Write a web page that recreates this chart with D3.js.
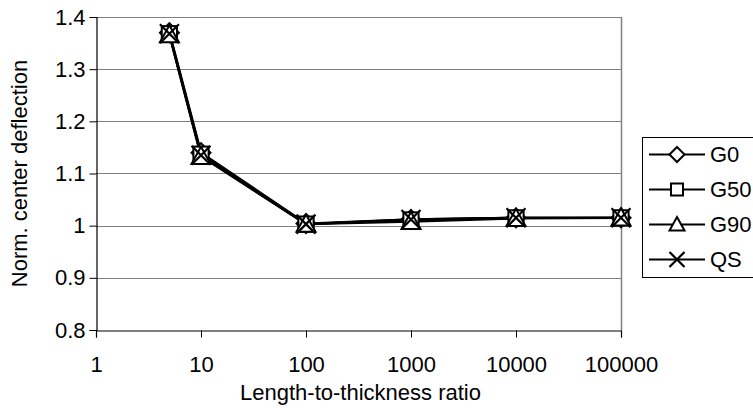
<!DOCTYPE html>
<html>
<head>
<meta charset="utf-8">
<script src="https://cdnjs.cloudflare.com/ajax/libs/d3/7.9.0/d3.min.js"></script>
<style>
  html, body { margin: 0; padding: 0; background: #fff; }
  svg { display: block; font-family: "Liberation Sans", Arial, sans-serif; }
</style>
</head>
<body>
<div id="grafico"></div>
<script>
// razão comprimento/espessura (eixo x, log)
const razoes = [5, 10, 100, 1000, 10000, 100000];
const ticksX = [1, 10, 100, 1000, 10000, 100000];
const ticksY = [0.8, 0.9, 1, 1.1, 1.2, 1.3, 1.4];

// deflexão central normalizada
const serieG0  = [1.370, 1.140, 1.004, 1.012, 1.015, 1.015];
const serieG50 = [1.368, 1.137, 1.003, 1.011, 1.015, 1.015];
const serieG90 = [1.366, 1.133, 1.003, 1.008, 1.014, 1.015];
const serieQS  = [1.368, 1.135, 1.003, 1.012, 1.015, 1.015];

const nomesSeries = ["G0", "G50", "G90", "QS"];
const marcadores  = ["diamante", "quadrado", "triangulo", "xis"];

const series = [serieG0, serieG50, serieG90, serieQS].map((vals, i) => ({
  nome: nomesSeries[i],
  marcador: marcadores[i],
  pontos: razoes.map((r, j) => ({ x: r, y: vals[j] }))
}));

const W = 753, H = 408;
const area = { esq: 96, dir: 621, topo: 17, base: 330 };
const FONTE = 22;

const svg = d3.select("#grafico").append("svg")
  .attr("width", W).attr("height", H);

const x = d3.scaleLog().domain([1, 100000]).range([area.esq, area.dir]);
const y = d3.scaleLinear().domain([0.8, 1.4]).range([area.base, area.topo]);

// desenha um marcador centrado em (0,0)
function desenhaMarcador(g, tipo, s) {
  if (tipo === "diamante") {
    g.append("path").attr("d", `M0,${-s}L${s},0L0,${s}L${-s},0Z`)
      .attr("fill", "#fff").attr("stroke", "#000").attr("stroke-width", 2);
  } else if (tipo === "quadrado") {
    const h = s * 0.8;
    g.append("rect").attr("x", -h).attr("y", -h).attr("width", 2 * h).attr("height", 2 * h)
      .attr("fill", "#fff").attr("stroke", "#000").attr("stroke-width", 2);
  } else if (tipo === "triangulo") {
    g.append("path").attr("d", `M0,${-s}L${s},${s * 0.8}L${-s},${s * 0.8}Z`)
      .attr("fill", "#fff").attr("stroke", "#000").attr("stroke-width", 2);
  } else {
    g.append("path").attr("d", `M${-s},${-s}L${s},${s}M${-s},${s}L${s},${-s}`)
      .attr("fill", "none").attr("stroke", "#000").attr("stroke-width", 2.2);
  }
}

// grade horizontal
svg.append("g")
  .selectAll("line")
  .data(ticksY.filter(v => v > 0.8))
  .join("line")
  .attr("x1", area.esq).attr("x2", area.dir)
  .attr("y1", d => Math.round(y(d)) + 0.5).attr("y2", d => Math.round(y(d)) + 0.5)
  .attr("stroke", "#808080").attr("stroke-width", 1);

// borda direita cinza
svg.append("line")
  .attr("x1", area.dir + 0.5).attr("x2", area.dir + 0.5)
  .attr("y1", area.topo).attr("y2", area.base)
  .attr("stroke", "#808080").attr("stroke-width", 1.5);

// eixo y
const eixoY = svg.append("g")
  .attr("transform", `translate(${area.esq + 0.5},0)`)
  .call(d3.axisLeft(y).tickValues(ticksY).tickSize(7).tickPadding(4)
    .tickFormat(d => d3.format("")(+d.toFixed(1))));

// eixo x
const eixoX = svg.append("g")
  .attr("transform", `translate(0,${area.base + 0.5})`)
  .call(d3.axisBottom(x).tickValues(ticksX).tickSize(7).tickPadding(19)
    .tickFormat(d3.format("d")));

[eixoY, eixoX].forEach(ax => {
  ax.select(".domain").attr("stroke", "#000").attr("stroke-width", 1.2);
  ax.selectAll(".tick line").attr("stroke", "#000");
  ax.selectAll(".tick text").attr("font-size", FONTE).attr("fill", "#000")
    .attr("font-family", "Liberation Sans, Arial, sans-serif");
});

// títulos dos eixos
svg.append("text")
  .attr("x", (area.esq + area.dir) / 2 + 2).attr("y", 400)
  .attr("text-anchor", "middle").attr("font-size", FONTE)
  .text("Length-to-thickness ratio");

svg.append("text")
  .attr("transform", `translate(27,${(area.topo + area.base) / 2}) rotate(-90)`)
  .attr("text-anchor", "middle").attr("font-size", FONTE)
  .text("Norm. center deflection");

// linhas
const linha = d3.line().x(d => x(d.x)).y(d => y(d.y));
svg.append("g")
  .selectAll("path")
  .data(series)
  .join("path")
  .attr("d", d => linha(d.pontos))
  .attr("fill", "none").attr("stroke", "#000").attr("stroke-width", 2.4);

// marcadores
series.forEach(s => {
  s.pontos.forEach(p => {
    const g = svg.append("g").attr("transform", `translate(${x(p.x)},${y(p.y)})`);
    desenhaMarcador(g, s.marcador, 9.5);
  });
});

// legenda
const leg = svg.append("g").attr("transform", "translate(642,137)");
leg.append("rect")
  .attr("x", 0.5).attr("y", 0.5).attr("width", 140).attr("height", 140)
  .attr("fill", "#fff").attr("stroke", "#000").attr("stroke-width", 1);

series.forEach((s, i) => {
  const cy = 17.5 + i * 35;
  const item = leg.append("g").attr("transform", `translate(0,${cy})`);
  item.append("line").attr("x1", 7).attr("x2", 63).attr("y1", 0).attr("y2", 0)
    .attr("stroke", "#000").attr("stroke-width", 2.2);
  const m = item.append("g").attr("transform", "translate(35,0)");
  desenhaMarcador(m, s.marcador, 7.5);
  item.append("text").attr("x", 68).attr("y", 0).attr("dy", "0.36em")
    .attr("font-size", FONTE).text(s.nome);
});
</script>
</body>
</html>
